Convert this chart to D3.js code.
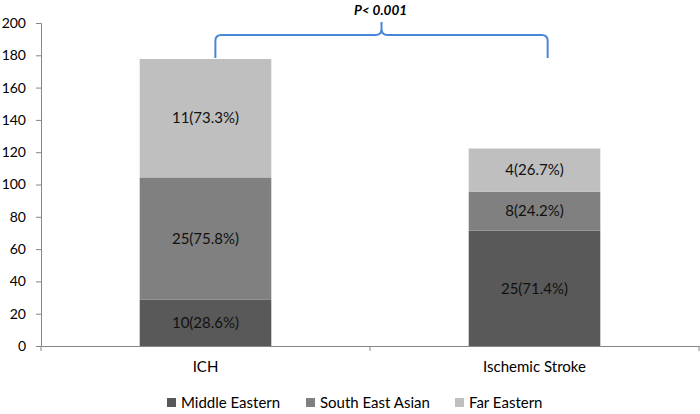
<!DOCTYPE html>
<html><head><meta charset="utf-8">
<script src="https://cdn.jsdelivr.net/npm/d3@7"></script>
<style>body{margin:0;background:#fff}svg{display:block}text{font-family:Lato,"Open Sans",sans-serif}</style>
</head><body><svg id="c" width="700" height="414"></svg>
<script>
const categories = ["ICH", "Ischemic Stroke"];
const seriesNames = ["Middle Eastern", "South East Asian", "Far Eastern"];
const middleEastern = [28.6, 71.4];
const southEastAsian = [75.8, 24.2];
const farEastern = [73.3, 26.7];
const counts = [[10, 25], [25, 8], [11, 4]];
const yTicks = [0, 20, 40, 60, 80, 100, 120, 140, 160, 180, 200];
const colors = ["#595959", "#808080", "#bfbfbf"];
const pLabel = "P< 0.001";

const svg = d3.select("#c");
const m = {l: 41, r: 699, t: 23, b: 346};
const x = d3.scaleBand().domain(categories).range([m.l, m.r]).padding(0);
const y = d3.scaleLinear().domain([0, 200]).range([m.b, m.t]);
const barW = x.bandwidth() * 0.4;

const rows = categories.map((c, i) => ({cat: c, me: middleEastern[i], sea: southEastAsian[i], fe: farEastern[i]}));
const stack = d3.stack().keys(["me", "sea", "fe"])(rows);

// y axis
const ya = svg.append("g").attr("transform", `translate(${m.l},0)`)
  .call(d3.axisLeft(y).tickValues(yTicks).tickSize(5).tickPadding(10));
ya.select(".domain").attr("stroke", "#868686");
ya.selectAll(".tick line").attr("stroke", "#868686");
ya.selectAll(".tick text").attr("font-size", 14).attr("fill", "#000");

// bars
stack.forEach((s, si) => {
  svg.append("g").selectAll("rect").data(s).join("rect")
    .attr("x", d => x(d.data.cat) + (x.bandwidth() - barW) / 2)
    .attr("width", barW)
    .attr("y", d => y(d[1]))
    .attr("height", d => y(d[0]) - y(d[1]))
    .attr("fill", colors[si]);
  svg.append("g").selectAll("text").data(s).join("text")
    .attr("x", d => x(d.data.cat) + x.bandwidth() / 2)
    .attr("y", d => y((d[0] + d[1]) / 2))
    .attr("dy", "0.35em").attr("text-anchor", "middle")
    .attr("font-size", 15).attr("fill", "#111")
    .text((d, i) => `${counts[si][i]}(${(d[1] - d[0]).toFixed(1)}%)`);
});

// x axis
const xa = svg.append("g").attr("transform", `translate(0,${m.b})`)
  .call(d3.axisBottom(x).tickSize(0).tickPadding(15));
xa.select(".domain").attr("stroke", "#868686");
xa.selectAll(".tick text").attr("font-size", 15).attr("fill", "#000");
[m.l, (m.l + m.r) / 2, m.r].forEach(px => {
  svg.append("line").attr("x1", px).attr("x2", px).attr("y1", m.b).attr("y2", m.b + 5).attr("stroke", "#868686");
});

// bracket
const totals = categories.map((c, i) => middleEastern[i] + southEastAsian[i] + farEastern[i]);
const bx1 = x(categories[0]) + x.bandwidth() * 0.53;
const bx2 = x(categories[1]) + x.bandwidth() * 0.54;
const by = 35, byEnd = y(totals[0]) - 1, bmid = (bx1 + bx2) / 2, r = 6;
const path = `M${bx1},${byEnd} L${bx1},${by + r} Q${bx1},${by} ${bx1 + r},${by} L${bmid - r},${by} Q${bmid},${by} ${bmid},${by - r} L${bmid},${by - 13} M${bmid},${by - r} Q${bmid},${by} ${bmid + r},${by} L${bx2 - r},${by} Q${bx2},${by} ${bx2},${by + r} L${bx2},${byEnd}`;
svg.append("path").attr("d", path).attr("fill", "none").attr("stroke", "#4a86d8").attr("stroke-width", 2);
svg.append("text").attr("x", bmid - 1).attr("y", 15).attr("text-anchor", "middle")
  .attr("font-size", 13.5).attr("font-weight", "bold").attr("font-style", "italic").attr("fill", "#000").text(pLabel);

// legend
const legX = [167, 306, 455];
seriesNames.forEach((n, i) => {
  svg.append("rect").attr("x", legX[i]).attr("y", 398).attr("width", 9).attr("height", 9).attr("fill", colors[i]);
  svg.append("text").attr("x", legX[i] + 14).attr("y", 403).attr("dy", "0.35em").attr("font-size", 15).attr("fill", "#000").text(n);
});
</script></body></html>
